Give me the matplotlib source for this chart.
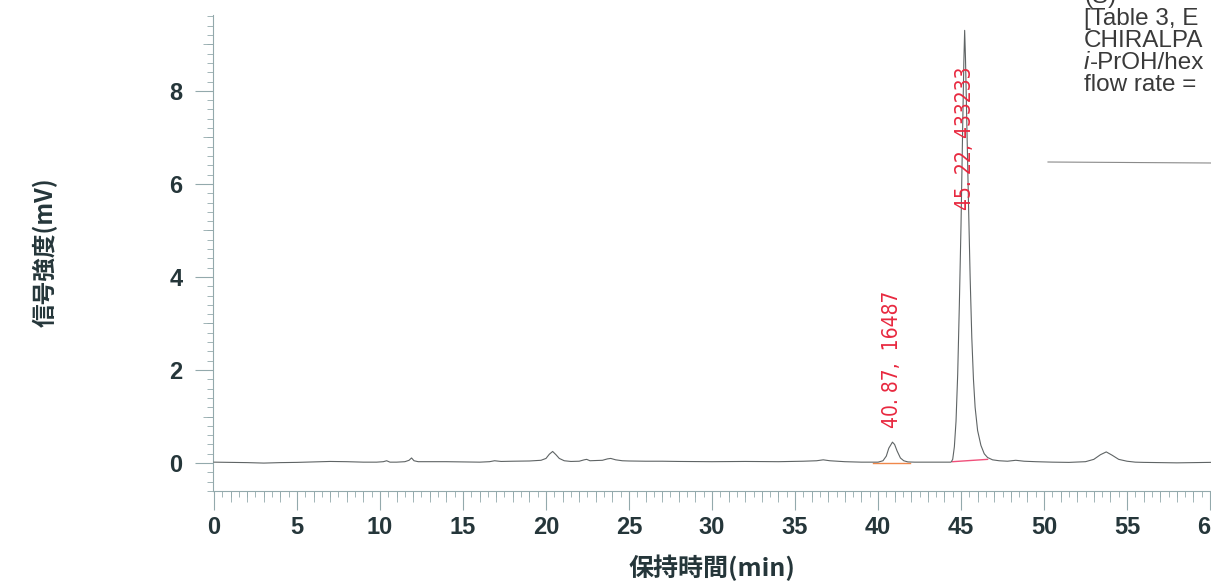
import matplotlib
matplotlib.use("Agg")
import matplotlib.pyplot as plt
from matplotlib.ticker import MultipleLocator, NullFormatter

# ---------------- data ----------------
time_min = [0, 1, 2, 3, 4, 5, 6, 7, 8, 9, 9.8, 10.2, 10.4, 10.6, 11.0, 11.5,
            11.75, 11.9, 12.05, 12.3, 13, 14, 15, 16, 16.6, 16.9, 17.3, 18, 19,
            19.7, 20.0, 20.2, 20.4, 20.6, 20.8, 21.1, 21.5, 22.0, 22.3, 22.45,
            22.65, 23.0, 23.4, 23.7, 23.9, 24.2, 24.6, 25, 26, 27, 28, 30, 32,
            34, 35.5, 36.3, 36.7, 37.1, 38, 39, 40.0, 40.3, 40.5, 40.65, 40.87,
            41.0, 41.15, 41.35, 41.55, 41.8, 42.2, 43, 44.0, 44.4, 44.5, 44.6,
            44.7, 44.8, 44.9, 45.0, 45.1, 45.17, 45.22, 45.27, 45.35, 45.45,
            45.55, 45.65, 45.75, 45.85, 46.0, 46.2, 46.4, 46.6, 46.9, 47.3,
            47.8, 48.3, 48.8, 49.5, 50.5, 51.5, 52.5, 53.0, 53.4, 53.75, 54.1,
            54.5, 55.0, 55.5, 56, 57, 58, 59, 60, 60.5]
signal_mv = [0.02, 0.015, 0.01, 0.0, 0.01, 0.015, 0.025, 0.035, 0.03, 0.02,
             0.02, 0.03, 0.05, 0.02, 0.02, 0.03, 0.06, 0.11, 0.05, 0.03, 0.03,
             0.03, 0.025, 0.02, 0.03, 0.05, 0.035, 0.04, 0.045, 0.06, 0.1,
             0.19, 0.25, 0.18, 0.1, 0.05, 0.035, 0.04, 0.07, 0.08, 0.05, 0.055,
             0.06, 0.09, 0.1, 0.07, 0.05, 0.045, 0.04, 0.04, 0.035, 0.03, 0.035,
             0.03, 0.04, 0.05, 0.07, 0.05, 0.03, 0.02, 0.02, 0.05, 0.15, 0.32,
             0.45, 0.40, 0.26, 0.11, 0.05, 0.025, 0.02, 0.02, 0.02, 0.02, 0.08,
             0.35, 0.9, 1.9, 3.4, 5.1, 7.2, 8.6, 9.3, 8.7, 7.3, 5.6, 4.0, 2.7,
             1.8, 1.2, 0.7, 0.38, 0.2, 0.12, 0.07, 0.05, 0.04, 0.06, 0.04, 0.03,
             0.02, 0.015, 0.03, 0.08, 0.18, 0.24, 0.17, 0.08, 0.04, 0.02, 0.015,
             0.01, 0.005, 0.01, 0.015, 0.02]

peak_times = [40.87, 45.22]
peak_areas = [16487, 433233]
peak_labels = ["40. 87,  16487", "45. 22, 433233"]

# integration baselines drawn under the two peaks
base_t0 = [39.7, 44.5]
base_t1 = [41.9, 46.6]
base_y0 = [0.01, 0.03]
base_y1 = [0.01, 0.08]
base_colors = ["#f0884a", "#f0507a"]

x_ticks = [0, 5, 10, 15, 20, 25, 30, 35, 40, 45, 50, 55, 60]
y_ticks = [0, 2, 4, 6, 8]

# the visible part of the annotation block (cut by the scan edge)
info_lines = ["(S)", "[Table 3, E", "CHIRALPA", "-PrOH/hex", "flow rate ="]

# ---------------- layout / style ----------------
W, H = 1211, 583
fig = plt.figure(figsize=(W / 100, H / 100), dpi=100)
ax = fig.add_axes([213 / W, (H - 491) / H, 1 - 213 / W, (491 - 15) / H])
ax.set_xlim(-0.06, 60.06)
ax.set_ylim(-0.60, 9.63)

axis_col = "#93a9ac"
lab_col = "#25363a"
red = "#e8283f"

ax.plot(time_min, signal_mv, color="#5f6465", lw=0.8, zorder=3)
for a, b, c, d, col in zip(base_t0, base_t1, base_y0, base_y1, base_colors):
    ax.plot([a, b], [c, d], color=col, lw=1.0, zorder=2)

label_y = [0.75, 5.44]
for t, lab, yy in zip(peak_times, peak_labels, label_y):
    ax.text(t, yy, lab, rotation=90, color=red, ha="center", va="bottom",
            fontsize=15, family="DejaVu Sans", fontstretch="condensed",
            zorder=4)

for s in ["top", "right"]:
    ax.spines[s].set_visible(False)
for s in ["left", "bottom"]:
    ax.spines[s].set_color(axis_col)
    ax.spines[s].set_linewidth(0.8)

ax.set_xticks(x_ticks)
ax.set_yticks(y_ticks)
ax.xaxis.set_minor_locator(MultipleLocator(0.5))
ax.yaxis.set_minor_locator(MultipleLocator(0.2))
ax.tick_params(axis="x", which="major", length=14, width=0.8, color=axis_col,
               pad=4, labelsize=17, labelcolor=lab_col)
ax.tick_params(axis="y", which="major", length=13, width=0.8, color=axis_col,
               pad=9, labelsize=17, labelcolor=lab_col)
ax.tick_params(which="minor", length=4.5, width=0.6, color=axis_col)
for lbl in ax.get_xticklabels() + ax.get_yticklabels():
    lbl.set_fontweight("bold")
    lbl.set_family(["Liberation Sans", "DejaVu Sans"])

# intermediate ticks at every 1 min / 1 mV
secx = ax.secondary_xaxis("bottom")
secx.set_xticks(range(0, 61))
secx.xaxis.set_major_formatter(NullFormatter())
secx.tick_params(length=8, width=0.6, color=axis_col)
secx.spines["bottom"].set_visible(False)
secy = ax.secondary_yaxis("left")
secy.set_yticks(range(0, 10))
secy.yaxis.set_major_formatter(NullFormatter())
secy.tick_params(length=7.5, width=0.6, color=axis_col)
secy.spines["left"].set_visible(False)

jp = ["Noto Sans CJK JP", "DejaVu Sans"]
fig.text(45 / W, 1 - 252 / H, "信号強度(mV)", rotation=90, ha="center",
         va="center", fontsize=17, fontweight="bold", family=jp, color=lab_col)
fig.text(712 / W, 1 - 568 / H, "保持時間(min)", ha="center", va="center",
         fontsize=18, fontweight="bold", family=jp, color=lab_col)

# info block
txt_kw = dict(fontsize=17.5, color="#3a3a3a", va="baseline", ha="left",
              family=["Liberation Sans", "DejaVu Sans"])
line_base = [3, 25, 47, 69, 91]
for i, (ln, yy) in enumerate(zip(info_lines, line_base)):
    if i == 3:
        fig.text(1084 / W, 1 - yy / H, "i", style="italic", **txt_kw)
        fig.text(1090 / W, 1 - yy / H, ln, **txt_kw)
    else:
        fig.text(1084 / W, 1 - yy / H, ln, **txt_kw)
fig.add_artist(plt.Line2D([1048 / W, 1.0], [1 - 162 / H, 1 - 163 / H],
                          transform=fig.transFigure, color="#8a8a8a", lw=0.8))

fig.savefig("out.png", dpi=100)
